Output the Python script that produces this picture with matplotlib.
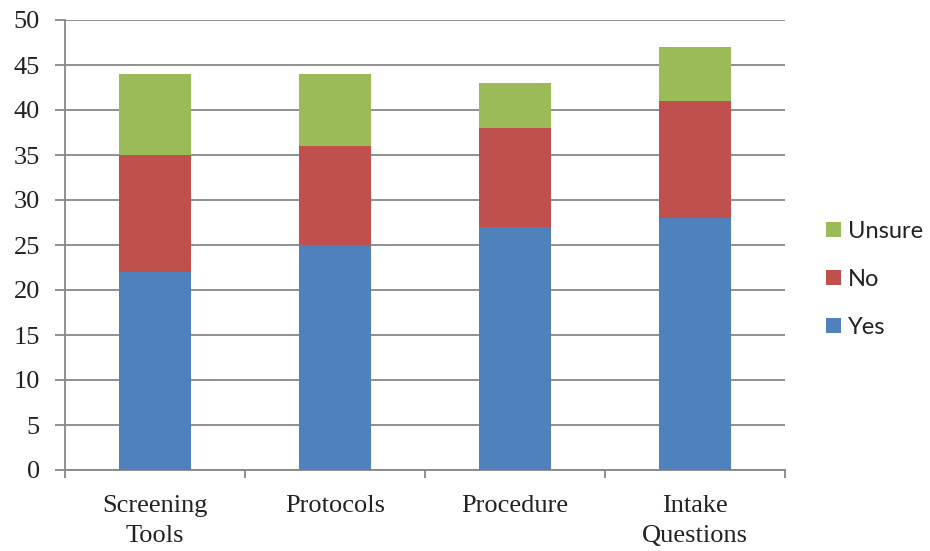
import numpy as np
import matplotlib.pyplot as plt

categories = ["Screening\nTools", "Protocols", "Procedure", "Intake\nQuestions"]
yes = [22, 25, 27, 28]
no = [13, 11, 11, 13]
unsure = [9, 8, 5, 6]

grey = "#878787"
fig = plt.figure(figsize=(9.3, 5.51), dpi=100)
ax = fig.add_axes([65 / 930, 81 / 551, 720 / 930, 450 / 551])

x = np.arange(len(categories))
bottom2 = np.array(yes) + np.array(no)
b1 = ax.bar(x, yes, 0.4, color="#4F81BD", label="Yes", zorder=3)
b2 = ax.bar(x, no, 0.4, bottom=yes, color="#C0504D", label="No", zorder=3)
b3 = ax.bar(x, unsure, 0.4, bottom=bottom2, color="#9BBB59", label="Unsure", zorder=3)

ax.set_xlim(-0.5, 3.5)
ax.set_ylim(0, 50)
ax.set_yticks(range(0, 51, 5))
ax.yaxis.grid(True, color=grey, linewidth=1.3, zorder=0)
for s in ["top", "right"]:
    ax.spines[s].set_visible(False)
for s in ["left", "bottom"]:
    ax.spines[s].set_color(grey)
    ax.spines[s].set_linewidth(1.3)

ax.set_xticks(x)
ax.set_xticklabels(categories, family="Liberation Serif", fontsize=19, color="#222222",
                   linespacing=1.45)
ax.set_xticks(np.arange(-0.5, 4, 1), minor=True)
ax.tick_params(axis="x", which="major", length=0, pad=18)
ax.tick_params(axis="x", which="minor", length=6, width=1.3, color=grey)
ax.tick_params(axis="y", length=7, width=1.3, color=grey, pad=11, labelsize=19,
               labelcolor="#222222")
for t in ax.get_yticklabels():
    t.set_family("Liberation Serif")

leg = ax.legend(handles=[b3, b2, b1], loc="center left", bbox_to_anchor=(1.028, 0.424),
                frameon=False, prop={"family": "Lato", "size": 17},
                handlelength=0.62, handleheight=0.62, handletextpad=0.3,
                labelspacing=1.15, labelcolor="#222222")

fig.savefig("out.png", dpi=100)
